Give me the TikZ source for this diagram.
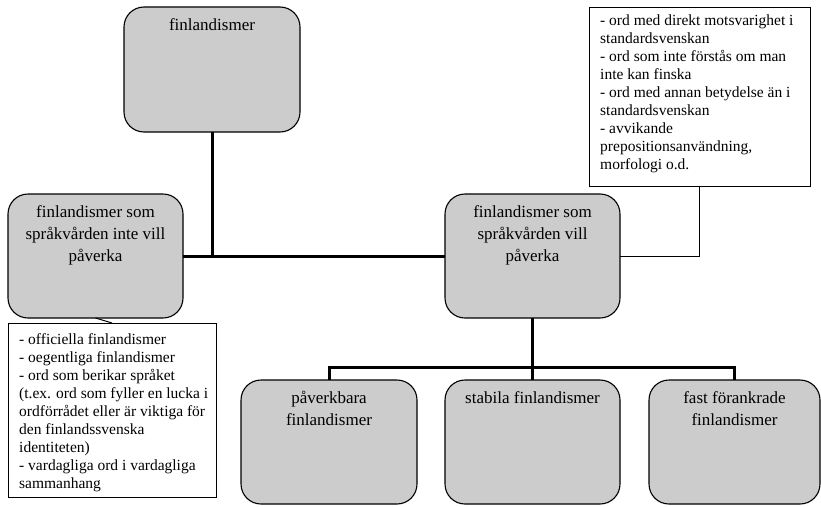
\documentclass[tikz,border=0pt]{standalone}
\usepackage{fontspec}
\setmainfont{Liberation Serif}
\begin{document}
\begin{tikzpicture}[x=1pt,y=-1pt,
  gbox/.style={draw=black,line width=1.1pt,fill=boxgray,rounded corners=20pt,
    inner sep=0pt,outer sep=0pt,anchor=north west},
  nbox/.style={draw=black,line width=1pt,fill=white,inner sep=0pt,outer sep=0pt,anchor=north west},
  gtext/.style={inner sep=0pt,align=center,anchor=north,font=\fontsize{17}{22}\selectfont},
  ntext/.style={inner sep=0pt,align=left,anchor=north west,font=\fontsize{15.5}{18}\selectfont},
  thickc/.style={line width=3pt,line join=miter},
  thinc/.style={line width=1pt}]
\definecolor{boxgray}{HTML}{CCCCCC}
\useasboundingbox (0,0) rectangle (821,506);
% gray boxes
\node[gbox,minimum width=176pt,minimum height=125pt] (top) at (124,7) {};
\node[gbox,minimum width=175pt,minimum height=124pt] (lft) at (8,194) {};
\node[gbox,minimum width=175pt,minimum height=124pt] (rgt) at (445,194) {};
\node[gbox,minimum width=176pt,minimum height=124pt] (b1) at (241,380) {};
\node[gbox,minimum width=175pt,minimum height=124pt] (b2) at (445,380) {};
\node[gbox,minimum width=171pt,minimum height=124pt] (b3) at (649,380) {};
% note boxes
\node[nbox,minimum width=221pt,minimum height=179pt] (nR) at (589,7) {};
\node[nbox,minimum width=208pt,minimum height=174pt] (nL) at (8,323) {};
% labels
\node[gtext] (ttop) at ([yshift=-11pt]top.north) {finlandismer};
\node[gtext] (tlft) at ([yshift=-11pt]lft.north) {finlandismer som\\språkvården inte vill\\påverka};
\node[gtext] (trgt) at ([yshift=-11pt]rgt.north) {finlandismer som\\språkvården vill\\påverka};
\node[gtext] (tb1) at ([yshift=-11pt]b1.north) {påverkbara\\finlandismer};
\node[gtext] (tb2) at ([yshift=-11pt]b2.north) {stabila finlandismer};
\node[gtext] (tb3) at ([yshift=-11pt]b3.north) {fast förankrade\\finlandismer};
\node[ntext] (tnR) at ([xshift=11pt,yshift=-8pt]nR.north west) {- ord med direkt motsvarighet i\\standardsvenskan\\- ord som inte förstås om man\\inte kan finska\\- ord med annan betydelse än i\\standardsvenskan\\- avvikande\\prepositionsanvändning,\\morfologi o.d.};
\node[ntext] (tnL) at ([xshift=11pt,yshift=-10pt]nL.north west) {- officiella finlandismer\\- oegentliga finlandismer\\- ord som berikar språket\\(t.ex. ord som fyller en lucka i\\ordförrådet eller är viktiga för\\den finlandssvenska\\identiteten)\\- vardagliga ord i vardagliga\\sammanhang};
% connectors
\coordinate (j1) at (top.south |- lft.east);
\draw[thickc] (lft.east) -- (rgt.west);
\draw[thickc] (top.south) -- (j1);
\coordinate (bus) at ([yshift=-49pt]rgt.south);
\draw[thickc] (rgt.south) -- (bus);
\draw[thickc] (b1.north) -- (b1.north |- bus) -- (b3.north |- bus) -- (b3.north);
\draw[thickc] (bus) -- (b2.north);
\draw[thinc] (rgt.east) -| (nR.south);
\draw[thinc] (lft.south) -- (nL.north);
\end{tikzpicture}
\end{document}
